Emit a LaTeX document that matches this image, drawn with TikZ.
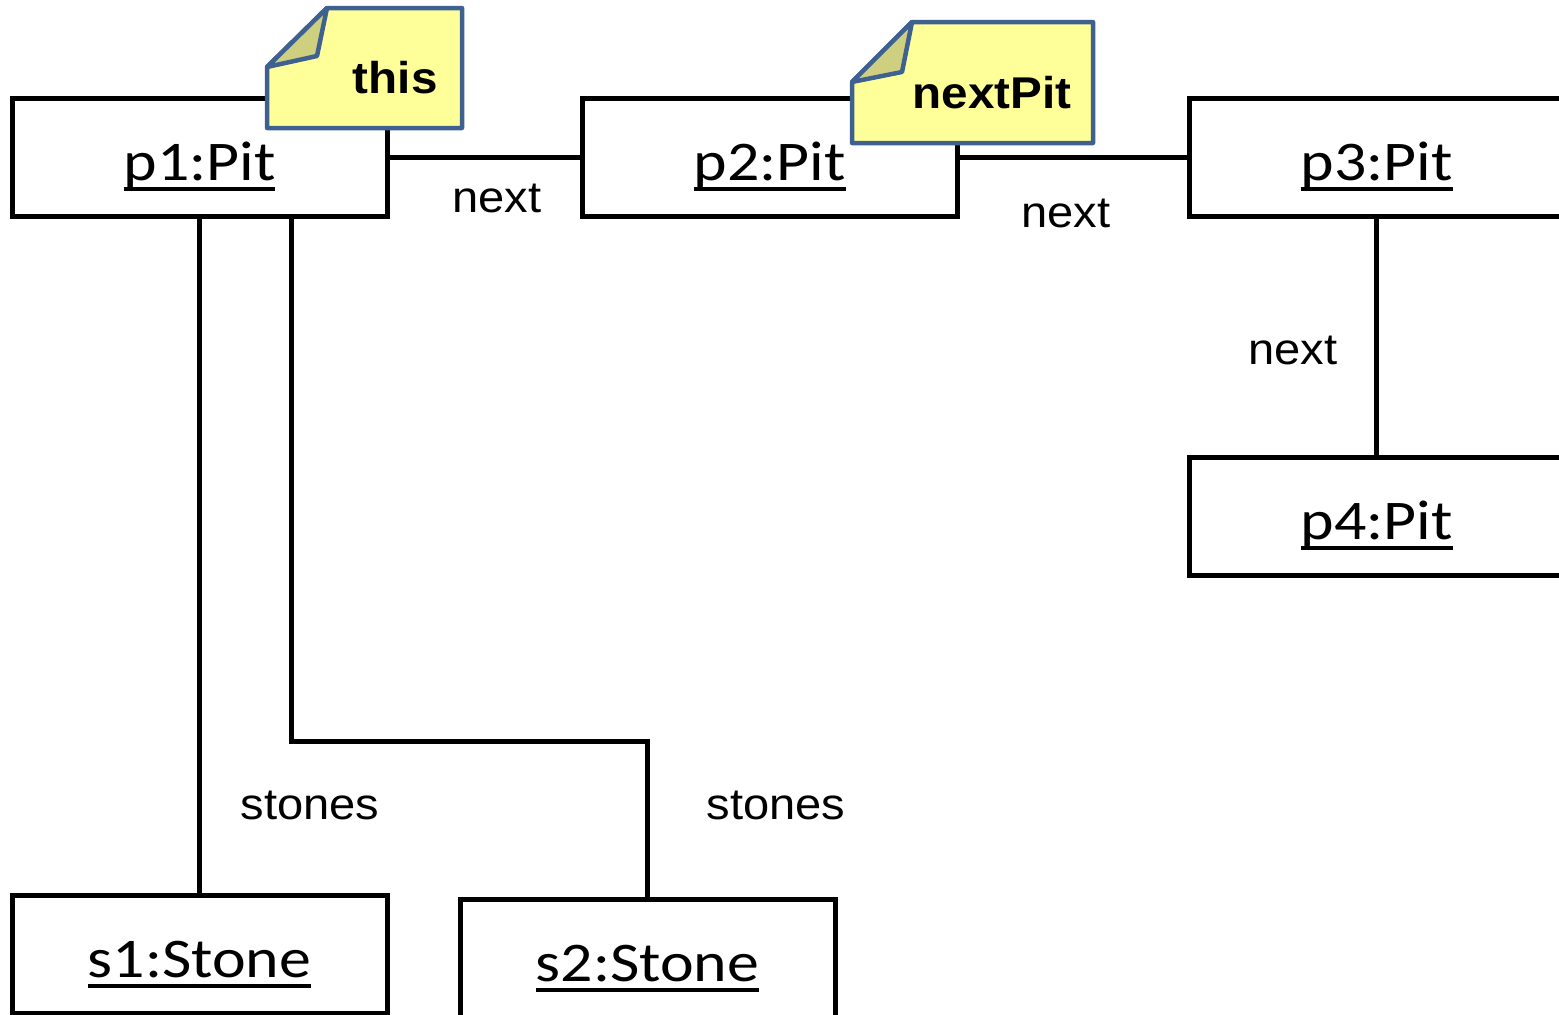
\documentclass[tikz,border=0pt]{standalone}
\usepackage{fontspec}
\setmainfont{Liberation Sans}[FakeStretch=1.07]
\newfontfamily\boxfont{Carlito}[FakeStretch=1.14]
\usetikzlibrary{positioning}

\definecolor{notefill}{HTML}{FFFF99}
\definecolor{notefold}{HTML}{CFCF80}
\definecolor{noteline}{HTML}{3F6190}

% object name with a fixed underline below the baseline
\newcommand{\objname}[1]{\setbox0\hbox{#1}\rlap{\rule[-11pt]{\wd0}{4.5pt}}\box0}

\begin{document}
\begin{tikzpicture}[x=1pt, y=-1pt, line width=5pt,
  objbox/.style={draw, line width=5pt, minimum width=375pt, inner sep=0pt, outer sep=0pt,
    text height=82pt, text depth=36pt, font=\boxfont\fontsize{56}{60}\selectfont},
  linklabel/.style={inner sep=0pt, anchor=base, font=\fontsize{44}{50}\selectfont},
  notebox/.style={draw=noteline, fill=notefill, line width=4.5pt, line join=round},
  notefold/.style={draw=noteline, fill=notefold, line width=4.5pt, line join=round},
  notetext/.style={inner sep=0pt, anchor=base east, font=\fontsize{44.5}{50}\selectfont\bfseries}]

  \clip (0,0) rectangle (1559,1015);

  % Pit objects in a row
  \node (p1) [objbox, anchor=north west] at (12,98) {\objname{p1:Pit}};
  \node (p2) [objbox, right=195pt of p1] {\objname{p2:Pit}};
  \node (p3) [objbox, right=232pt of p2] {\objname{p3:Pit}};
  \node (p4) [objbox, below=241pt of p3] {\objname{p4:Pit}};

  % Stone objects at the bottom
  \node (s1) [objbox, below=679pt of p1] {\objname{s1:Stone}};
  \node (s2) [objbox, anchor=north west] at (460,899) {\objname{s2:Stone}};

  % links between the objects
  \draw (p1) -- (p2);
  \draw (p2) -- (p3);
  \draw (p3) -- (p4);
  \draw (p1) -- (s1);
  \coordinate (bend) at (291,741);
  \draw (bend |- p1.south) -- (bend) -| (s2.north);

  % link labels
  \node (l12) [linklabel] at (497,212) {next};
  \node (l23) [linklabel] at (1066,227) {next};
  \node (l34) [linklabel] at (1293,364) {next};
  \node (ls1) [linklabel] at (310,819) {stones};
  \node (ls2) [linklabel] at (776,819) {stones};

  % notes with folded corner
  \draw[notebox] (267,67) -- (327,8) -- (462,8) -- (462,128) -- (267,128) -- cycle;
  \draw[notefold] (267,67) -- (327,8) -- (317,56) -- cycle;
  \node (nthis) [notetext] at (440,93) {this};

  \draw[notebox] (852,82) -- (912,22) -- (1093,22) -- (1093,143) -- (852,143) -- cycle;
  \draw[notefold] (852,82) -- (912,22) -- (902,72) -- cycle;
  \node (nnext) [notetext] at (1074,108) {nextPit};

\end{tikzpicture}
\end{document}
